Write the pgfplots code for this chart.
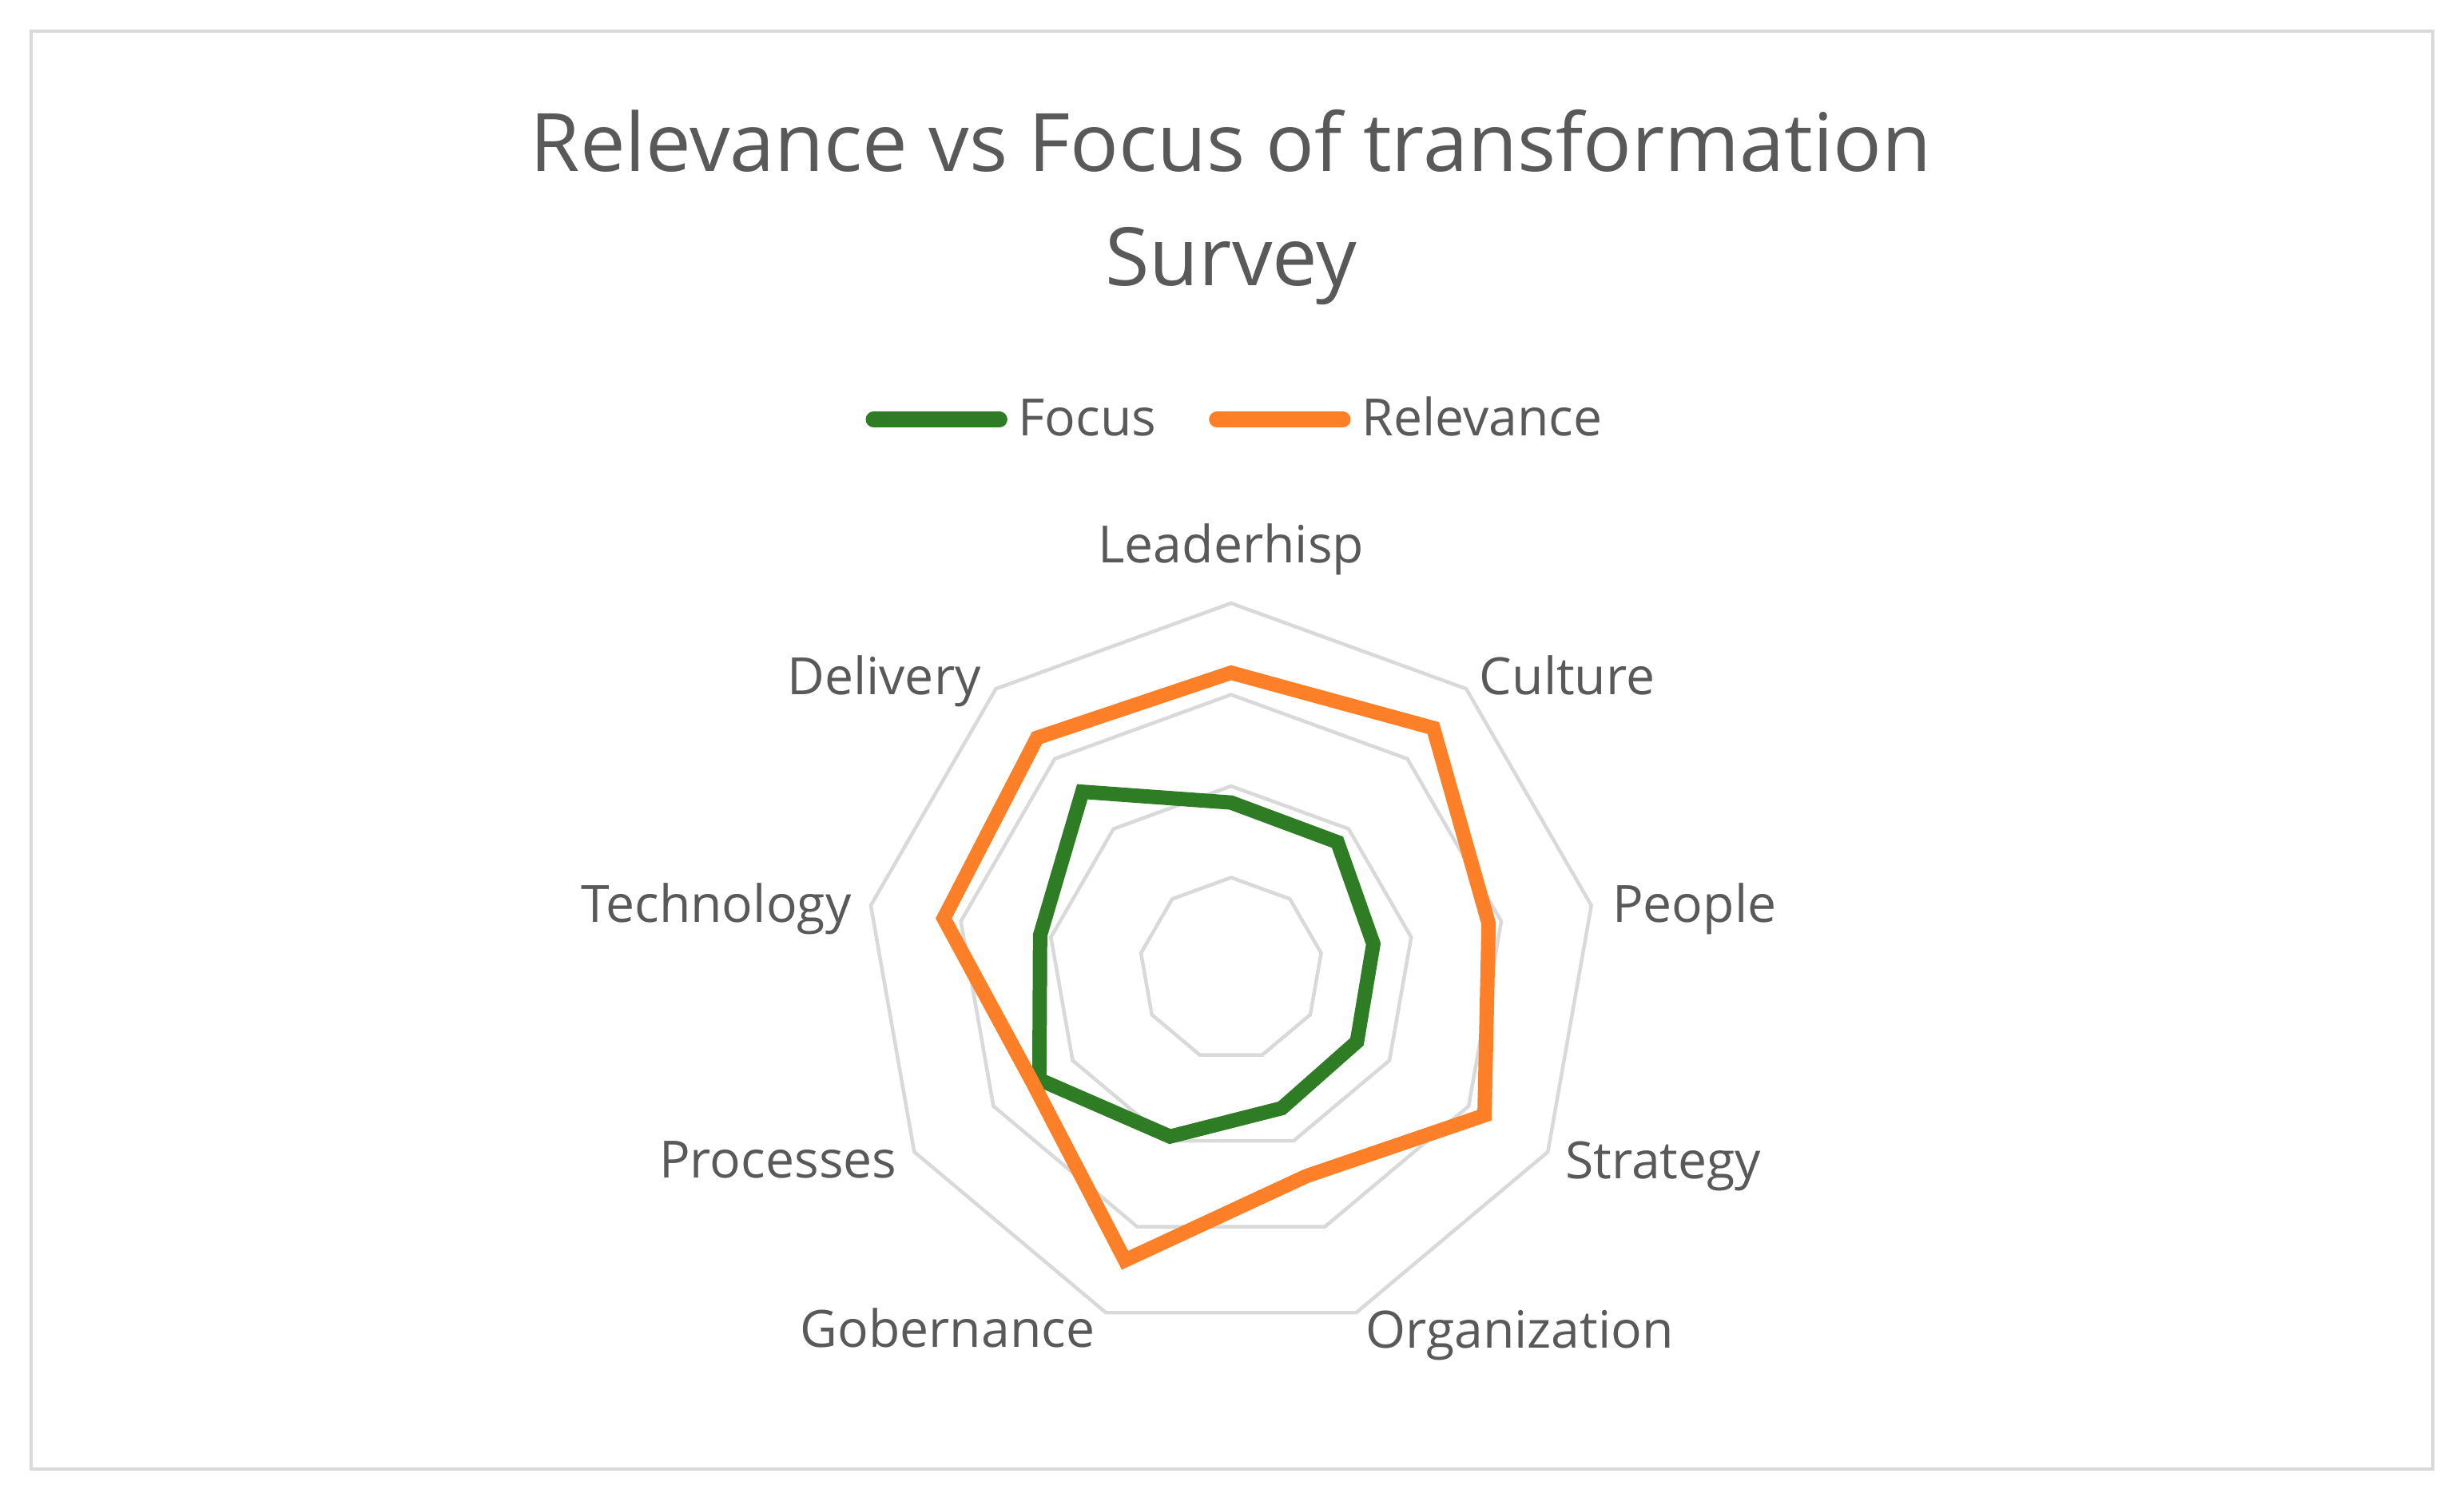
\documentclass[border=0pt]{standalone}
\usepackage{fontspec}
\setmainfont{Open Sans}
\usepackage{pgfplots}
\pgfplotsset{compat=1.18}
\usepgfplotslibrary{polar}
\definecolor{focusgreen}{HTML}{2E7D24}
\definecolor{relorange}{HTML}{FD7F28}
\definecolor{gridgray}{HTML}{D9D9D9}
\definecolor{textgray}{HTML}{595959}

\begin{document}
\begin{tikzpicture}
\path[use as bounding box, fill=white] (-78.34mm,-34.33mm) rectangle (78.46mm,61.67mm);
\draw[gridgray, line width=0.6pt] (-76.34mm,-31.83mm) rectangle (76.46mm,59.67mm);

% title
\node[anchor=base, inner sep=0pt, text=textgray, font=\fontsize{14.6}{17}\selectfont] at (0,50.74mm) {Relevance vs Focus of transformation};
\node[anchor=base, inner sep=0pt, text=textgray, font=\fontsize{14.6}{17}\selectfont] at (0,43.47mm) {Survey};

\begin{polaraxis}[
  at={(0,0)}, anchor=center,
  scale only axis, width=46.56mm, height=46.56mm,
  xmin=0, xmax=360, ymin=0, ymax=4,
  xtick=\empty, ytick=\empty,
  axis line style={draw=none},
  clip=false,
  legend columns=2,
  legend style={
    at={(axis description cs:-0.009,1.25)}, anchor=west,
    draw=none, fill=none, inner sep=0pt, outer sep=0pt,
    column sep=0pt,
    /tikz/every odd column/.append style={column sep=0.4mm},
    /tikz/every even column/.append style={column sep=2.9mm},
    nodes={inner sep=0pt, anchor=base west, text=textgray, font=\fontsize{9.3}{11}\selectfont},
  },
  legend image code/.code={
    \path (0mm,0mm) (8.85mm,0mm);
    \draw[#1, line cap=round, line width=2.9pt] (0.5mm,1.03mm) -- (8.5mm,1.03mm);
  },
]
% polygon grid rings
\addplot[gridgray, line width=0.65pt, forget plot] coordinates {(90,1) (50,1) (10,1) (330,1) (290,1) (250,1) (210,1) (170,1) (130,1) (90,1) (50,1)};
\addplot[gridgray, line width=0.65pt, forget plot] coordinates {(90,2) (50,2) (10,2) (330,2) (290,2) (250,2) (210,2) (170,2) (130,2) (90,2) (50,2)};
\addplot[gridgray, line width=0.65pt, forget plot] coordinates {(90,3) (50,3) (10,3) (330,3) (290,3) (250,3) (210,3) (170,3) (130,3) (90,3) (50,3)};
\addplot[gridgray, line width=0.65pt, forget plot] coordinates {(90,4) (50,4) (10,4) (330,4) (290,4) (250,4) (210,4) (170,4) (130,4) (90,4) (50,4)};

% Leaderhisp, Culture, People, Strategy, Organization, Gobernance, Processes, Technology, Delivery
\addplot[focusgreen, line width=2.6pt] coordinates {(90,1.82) (50,1.81) (10,1.58) (330,1.59) (290,1.62) (250,1.95) (210,2.42) (170,2.12) (130,2.53) (90,1.82) (50,1.81)};
\addplot[relorange, line width=2.6pt] coordinates {(90,3.24) (50,3.44) (10,2.86) (330,3.20) (290,2.41) (250,3.39) (210,2.50) (170,3.19) (130,3.30) (90,3.24) (50,3.44)};
\legend{Focus,Relevance}
\end{polaraxis}

% category labels
\begin{scope}[every node/.style={inner sep=0pt, text=textgray, font=\fontsize{9.3}{11}\selectfont}]
\node[anchor=base] at (0mm,25.83mm) {Leaderhisp};
\node[anchor=base west] at (15.75mm,17.44mm) {Culture};
\node[anchor=base west] at (24.2mm,2.95mm) {People};
\node[anchor=base west] at (21.2mm,-13.37mm) {Strategy};
\node[anchor=base west] at (8.5mm,-24.1mm) {Organization};
\node[anchor=base east] at (-8.6mm,-24.05mm) {Gobernance};
\node[anchor=base east] at (-21.2mm,-13.32mm) {Processes};
\node[anchor=base east] at (-24.1mm,2.95mm) {Technology};
\node[anchor=base east] at (-15.85mm,17.44mm) {Delivery};
\end{scope}
\end{tikzpicture}
\end{document}
